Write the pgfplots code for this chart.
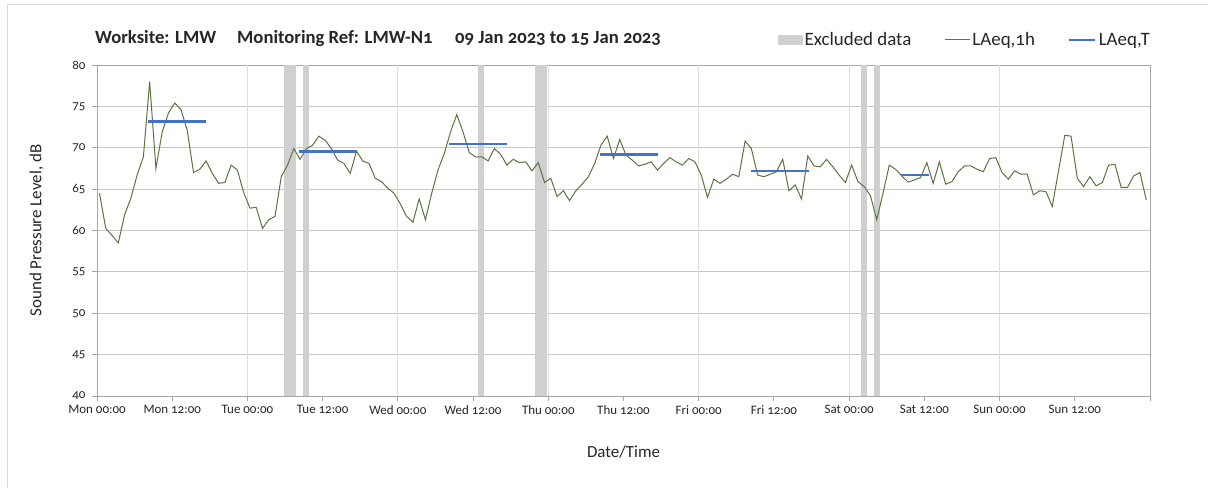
\documentclass[border=0pt]{standalone}
\usepackage{fontspec}
\setmainfont{Carlito}[Numbers=OldStyle]
\usepackage{pgfplots}
\usepackage{pgfplotstable}
\pgfplotsset{compat=1.18}
\definecolor{lgreen}{RGB}{90,118,62}
\definecolor{lblue}{RGB}{68,114,196}
\definecolor{bandgray}{RGB}{208,208,208}
\definecolor{axisgray}{RGB}{166,166,166}
\definecolor{hgrid}{RGB}{200,200,200}
\definecolor{vgrid}{RGB}{222,222,222}
\definecolor{txt}{RGB}{38,38,38}

\pgfplotstableread{
v
64.5
60.25
59.4
58.5
61.9
63.9
66.7
68.9
78.0
67.5
71.9
74.2
75.4
74.6
72.1
67.0
67.4
68.4
66.9
65.7
65.8
67.9
67.3
64.6
62.7
62.8
60.25
61.3
61.7
66.5
67.9
69.9
68.6
69.9
70.3
71.4
70.9
69.9
68.5
68.1
66.9
69.6
68.4
68.1
66.3
65.9
65.1
64.5
63.2
61.7
61.0
63.8
61.3
64.5
67.3
69.3
71.9
74.0
71.9
69.4
68.9
68.9
68.4
69.9
69.2
67.9
68.6
68.2
68.3
67.2
68.2
65.8
66.3
64.1
64.8
63.6
64.8
65.6
66.5
68.1
70.3
71.4
68.7
71.0
69.1
68.5
67.8
68.0
68.3
67.3
68.1
68.8
68.3
67.9
68.7
68.3
66.7
64.0
66.2
65.7
66.2
66.8
66.5
70.8
69.9
66.7
66.5
66.8
67.1
68.6
64.8
65.5
63.8
69.0
67.8
67.7
68.6
67.7
66.7
65.8
67.9
65.9
65.3
64.2
61.3
64.5
67.9
67.4
66.6
65.85
66.1
66.4
68.2
65.7
68.3
65.6
65.9
67.1
67.8
67.8
67.4
67.1
68.7
68.8
67.0
66.2
67.2
66.8
66.8
64.3
64.8
64.7
62.9
67.2
71.5
71.4
66.3
65.3
66.5
65.4
65.8
67.9
68.0
65.2
65.2
66.6
67.0
63.7
}\laeqh

\begin{document}
\begin{tikzpicture}[x=1bp,y=1bp]
\useasboundingbox (0,0) rectangle (1208,488);
\fill[white] (0,0) rectangle (1208,488);
\draw[black!15] (7,0) -- (7,484) -- (1208,484);
\node[anchor=base west, text=txt, font=\bfseries\fontsize{18.7}{21}\selectfont, inner sep=0] at (95,444) {Worksite: LMW};
\node[anchor=base west, text=txt, font=\bfseries\fontsize{18.7}{21}\selectfont, inner sep=0] at (237,444) {Monitoring Ref: LMW-N1};
\node[anchor=base west, text=txt, font=\bfseries\fontsize{18.7}{21}\selectfont, inner sep=0] at (455,444) {09 Jan 2023 to 15 Jan 2023};
\begin{axis}[
  scale only axis, width=1053bp, height=331bp,
  at={(97bp,92bp)}, anchor=south west,
  xmin=0, xmax=168, ymin=40, ymax=80,
  axis line style={draw=axisgray, line width=0.9bp},
  tick style={draw=axisgray, line width=0.9bp},
  major tick length=5bp, tick align=outside,
  xtick pos=bottom, ytick pos=left,
  xtick={0,12,...,168},
  xticklabels={Mon 00:00,Mon 12:00,Tue 00:00,Tue 12:00,Wed 00:00,Wed 12:00,Thu 00:00,Thu 12:00,Fri 00:00,Fri 12:00,Sat 00:00,Sat 12:00,Sun 00:00,Sun 12:00,{}},
  ytick={40,45,...,80},
  ymajorgrids, major grid style={draw=hgrid, line width=0.9bp},
  extra x ticks={24,48,72,96,120,144},
  extra x tick labels={},
  extra x tick style={xmajorgrids=true, major grid style={draw=vgrid, line width=1.2bp}, tick style={draw=none}},
  /pgf/number format/assume math mode=true,
  ticklabel style={font=\fontsize{13}{15}\selectfont, text=txt},
  xticklabel style={yshift=-1bp},
  yticklabel style={xshift=-3bp},
  xlabel={Date/Time}, ylabel={Sound Pressure Level, dB},
  label style={font=\fontsize{17}{20}\selectfont, text=txt},
  xlabel style={yshift=-14bp},
  ylabel style={yshift=22bp},
  legend columns=3,
  legend style={draw=none, fill=none, at={(1.0047,1.0755)}, anchor=east,
    font=\fontsize{19}{22}\selectfont, text=txt,
    /tikz/every even column/.append style={column sep=31bp},
    nodes={inner sep=2bp}},
  legend cell align=left,
]
\addplot[fill=bandgray, draw=none, legend image code/.code={\fill[bandgray] (0bp,-5bp) rectangle (25bp,5bp);}] coordinates {(29.8,40) (29.8,80) (31.7,80) (31.7,40)} -- cycle;
\addlegendentry{Excluded data}
\addplot[forget plot, fill=bandgray, draw=none] coordinates {(32.8,40) (32.8,80) (33.9,80) (33.9,40)} -- cycle;
\addplot[forget plot, fill=bandgray, draw=none] coordinates {(60.8,40) (60.8,80) (61.7,80) (61.7,40)} -- cycle;
\addplot[forget plot, fill=bandgray, draw=none] coordinates {(69.9,40) (69.9,80) (71.8,80) (71.8,40)} -- cycle;
\addplot[forget plot, fill=bandgray, draw=none] coordinates {(121.9,40) (121.9,80) (122.9,80) (122.9,40)} -- cycle;
\addplot[forget plot, fill=bandgray, draw=none] coordinates {(124.0,40) (124.0,80) (125.0,80) (125.0,40)} -- cycle;
\addplot[lgreen, line width=1bp, mark=none, legend image code/.code={\draw[lgreen, line width=1bp] (0bp,0bp) -- (25bp,0bp);}] table[x expr=\coordindex+0.4, y=v] {\laeqh};
\addlegendentry{LAeq,1h}
\addplot[lblue, line width=2.8bp, mark=none, unbounded coords=jump, legend image code/.code={\draw[lblue, line width=2.8bp] (0bp,0bp) -- (26bp,0bp);}] coordinates {
(8.2,73.2) (17.4,73.2) (nan,nan)
(32.3,69.5) (41.4,69.5) (nan,nan)
(56.2,70.45) (65.4,70.45) (nan,nan)
(80.2,69.2) (89.5,69.2) (nan,nan)
(104.3,67.2) (113.6,67.2) (nan,nan)
(128.2,66.7) (132.7,66.7)};
\addlegendentry{LAeq,T}
\end{axis}
\end{tikzpicture}
\end{document}
